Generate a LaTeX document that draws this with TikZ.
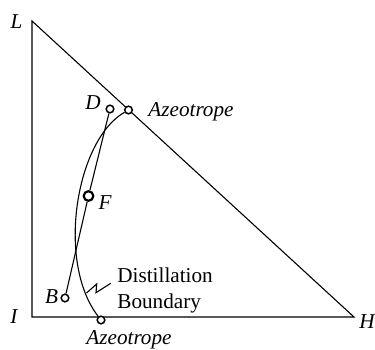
\documentclass[tikz,border=0pt]{standalone}
\usepackage{fontspec}
\setmainfont{Liberation Serif}
\usetikzlibrary{positioning}

\begin{document}
\begin{tikzpicture}[
  x=0.5pt, y=-0.5pt,
  font=\fontsize{10.6}{13}\selectfont,
  edge/.style={line width=0.55pt},
  comp/.style={circle, draw, fill=white, inner sep=0pt, minimum size=3.8pt, line width=0.75pt},
  feed/.style={comp, minimum size=4.8pt, line width=1.1pt},
  lbl/.style={font=\fontsize{10.6}{13}\selectfont\itshape, inner sep=1pt}
]
\useasboundingbox (0,0) rectangle (375,349);
% triangle corners
\coordinate (L) at (32,21);
\coordinate (I) at (32,317);
\coordinate (H) at (354,317);
\draw[edge] (L) -- (I) -- (H) -- cycle;
% points
\node[comp] (azTop) at (128.5,110) {};
\node[comp] (azBot) at (101,320) {};
\node[comp] (D) at (110,109) {};
\node[feed] (F) at (88.5,196) {};
\node[comp] (B) at (65,298) {};
% mass balance line and boundary
\draw[edge] (D) -- (F) -- (B);
\draw[edge] (azTop) .. controls (76,140) and (56,262) .. (azBot);
\coordinate (zz) at (86.5,293);
\draw[edge] (zz) -- (96.7,284) -- (96,292.7) -- (110.7,283.3);
% labels
\node[lbl] at (16.5,22) {L};
\node[lbl] at (14,317) {I};
\node[lbl] at (367,322) {H};
\node[lbl] at (93,103) {D};
\node[lbl] at (105,203) {F};
\node[lbl] at (51.5,297) {B};
\node[lbl, anchor=west] at (146,112) {Azeotrope};
\node[lbl] at (129,340) {Azeotrope};
\node[align=left, anchor=west, inner sep=1pt] (dist) at (115,290) {Distillation\\Boundary};
\end{tikzpicture}
\end{document}
